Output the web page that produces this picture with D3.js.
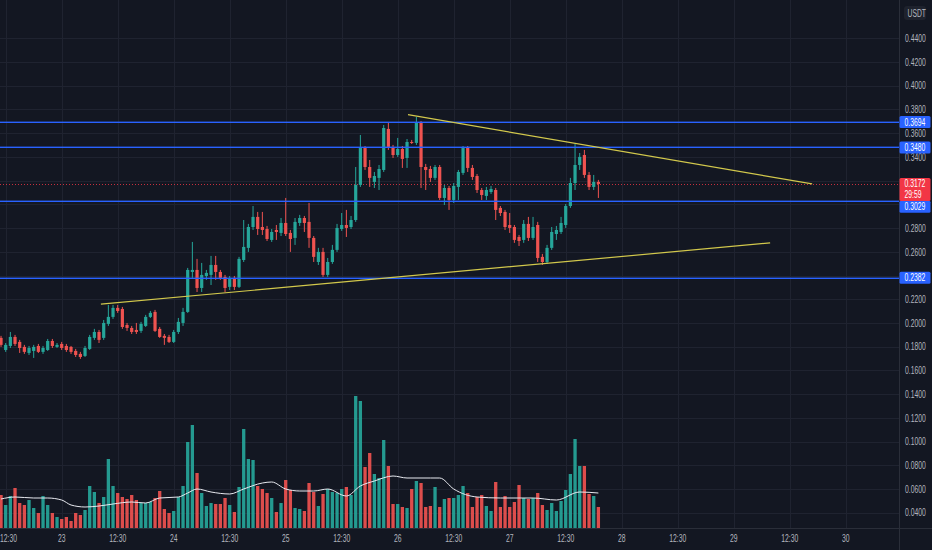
<!DOCTYPE html>
<html>
<head>
<meta charset="utf-8">
<script src="https://cdn.jsdelivr.net/npm/d3@7"></script>
<style>
  html, body { margin: 0; padding: 0; background: #131722; }
  svg text { font-family: "Liberation Sans", Arial, sans-serif; }
</style>
</head>
<body>
<div id="chart"></div>
<script>

// hourly candles, first one at 22 11:30 (UTC+5:30 style labels)
const firstCandle = "2021-07-22T11:30:00Z";

const opens = [
  .1874,.1772,.1806,.1882,.1840,.1798,.1747,.1764,.1806,.1756,
  .1772,.1848,.1798,.1823,.1806,.1798,.1764,.1739,.1722,.1781,
  .1874,.1924,.1874,.1992,.2051,.2127,.2118,.1983,.1958,.1941,
  .1933,.1975,.2051,.2093,.1950,.1891,.1882,.1840,.1924,.2000,
  .2093,.2430,.2447,.2295,.2396,.2405,.2489,.2430,.2388,.2304,
  .2380,.2304,.2531,.2633,.2809,.2894,.2809,.2792,.2700,.2784,
  .2759,.2843,.2759,.2717,.2843,.2885,.2852,.2717,.2514,.2599,
  .2405,.2514,.2616,.2792,.2826,.2809,.2868,.3164,.3475,.3315,
  .3189,.3223,.3290,.3636,.3484,.3416,.3467,.3391,.3526,.3518,
  .3686,.3315,.3298,.3223,.3315,.3054,.3138,.3037,.3147,.3265,
  .3475,.3307,.3239,.3121,.3071,.3104,.3121,.2970,.2936,.2826,
  .2809,.2725,.2700,.2835,.2717,.2826,.2557,.2514,.2633,.2750,
  .2767,.2826,.2986,.3180,.3332,.3416,.3248,.3147,.3189
];
const highs = [
  .1891,.1831,.1924,.1899,.1857,.1815,.1806,.1815,.1823,.1806,
  .1865,.1865,.1831,.1840,.1823,.1806,.1781,.1756,.1806,.1899,
  .1950,.1941,.2025,.2152,.2152,.2152,.2135,.2000,.1975,.2000,
  .2009,.2068,.2101,.2110,.1966,.1907,.1899,.1941,.2042,.2127,
  .2464,.2683,.2540,.2506,.2447,.2565,.2565,.2447,.2405,.2396,
  .2396,.2557,.2868,.2835,.2986,.2936,.2936,.2818,.2792,.2826,
  .2885,.3054,.2784,.2885,.2911,.2902,.3012,.2733,.2633,.2633,
  .2548,.2658,.2835,.2927,.2953,.2902,.3315,.3585,.3492,.3374,
  .3273,.3332,.3669,.3686,.3501,.3560,.3492,.3551,.3543,.3737,
  .3703,.3341,.3324,.3332,.3332,.3164,.3155,.3180,.3290,.3492,
  .3492,.3332,.3256,.3138,.3147,.3155,.3138,.2986,.2953,.2927,
  .2826,.2742,.2868,.2894,.2894,.2852,.2582,.2658,.2809,.2818,
  .2894,.3003,.3223,.3509,.3433,.3459,.3273,.3248,.3206
];
const lows = [
  .1798,.1756,.1789,.1806,.1747,.1739,.1730,.1705,.1747,.1739,
  .1764,.1789,.1789,.1772,.1756,.1739,.1713,.1697,.1713,.1772,
  .1857,.1831,.1857,.1975,.2034,.2085,.1950,.1933,.1907,.1907,
  .1916,.1966,.2042,.1924,.1874,.1815,.1831,.1831,.1907,.1975,
  .2085,.2380,.2261,.2261,.2363,.2320,.2363,.2363,.2261,.2278,
  .2278,.2295,.2514,.2599,.2784,.2742,.2742,.2691,.2683,.2700,
  .2733,.2733,.2599,.2658,.2818,.2767,.2633,.2514,.2489,.2388,
  .2388,.2498,.2599,.2776,.2725,.2792,.2852,.3147,.3290,.3147,
  .3138,.3121,.3273,.3459,.3391,.3400,.3307,.3307,.3509,.3501,
  .3138,.3121,.3189,.3206,.3037,.2995,.2953,.3012,.3037,.3248,
  .3273,.3206,.3096,.3037,.3037,.3088,.2868,.2902,.2784,.2759,
  .2675,.2649,.2675,.2691,.2700,.2514,.2489,.2498,.2616,.2700,
  .2750,.2801,.2970,.3121,.3290,.3223,.3121,.3121,.3054
];
const closes = [
  .1815,.1815,.1882,.1823,.1789,.1756,.1789,.1798,.1756,.1789,
  .1848,.1806,.1815,.1789,.1772,.1756,.1730,.1713,.1789,.1882,
  .1924,.1857,.2000,.2051,.2127,.2101,.1966,.1958,.1924,.1924,
  .1992,.2051,.2085,.1933,.1882,.1874,.1840,.1924,.2009,.2093,
  .2447,.2447,.2295,.2405,.2422,.2489,.2430,.2380,.2295,.2380,
  .2304,.2540,.2641,.2809,.2894,.2792,.2784,.2708,.2767,.2767,
  .2843,.2750,.2708,.2852,.2885,.2843,.2717,.2557,.2599,.2405,
  .2514,.2616,.2801,.2826,.2801,.2868,.3164,.3475,.3315,.3223,
  .3239,.3298,.3644,.3484,.3416,.3467,.3383,.3526,.3518,.3686,
  .3315,.3290,.3223,.3315,.3054,.3138,.3037,.3155,.3273,.3475,
  .3307,.3231,.3121,.3079,.3121,.3130,.2953,.2927,.2809,.2801,
  .2700,.2691,.2835,.2717,.2809,.2548,.2514,.2633,.2767,.2784,
  .2843,.2986,.3180,.3332,.3400,.3248,.3147,.3189,.3172
];
// volume, K
const volumes = [
  33,23,32,40,25,23,28,20,15,32,
  23,15,11,9,11,7,15,13,18,42,
  36,25,31,69,42,35,31,29,33,28,
  25,25,26,30,37,19,15,17,31,42,
  86,103,55,35,22,25,24,24,30,23,
  16,41,99,69,68,42,39,35,30,16,
  25,48,38,20,19,17,45,36,22,34,
  39,36,35,39,41,33,132,127,61,75,
  54,50,88,62,24,24,21,20,39,47,
  45,21,22,41,21,29,30,30,33,42,
  35,21,31,33,22,17,46,21,32,21,
  26,43,30,29,30,35,23,18,25,17,
  27,38,54,89,62,62,34,32,21
];
// volume moving average, read at some candles
const maCandle = [0,3,7,10,13,15,18,21,24,28,31,34,38,40,42,45,49,52,56,58,61,64,67,70,74,77,80,84,87,92,94,97,102,107,114,119,124,128];
const maValue  = [29,31,30,30,28,23,21,22,24,26,25,30,31,35,39,36,34,39,45,46,39,37,37,39,32,42,47,52,50,50,50,39,31,30,30,28,36,35];

const levels = [0.3694, 0.3480, 0.3029, 0.2382];
const levelLabelY = [0.3694, 0.3480, 0.2979, 0.2382]; // 0.3029 tag pushed down under the price tag
const lastPrice = 0.3172;
const countdown = "29:59";

const trendUpper = [["2021-07-26T02:42:00Z", 0.3756], ["2021-07-29T17:18:00Z", 0.3172]];
const trendLower = [["2021-07-23T08:54:00Z", 0.2158], ["2021-07-29T08:18:00Z", 0.2675]];

const priceTicks = [0.04,0.06,0.08,0.10,0.12,0.14,0.16,0.18,0.20,0.22,0.24,0.26,0.28,0.30,0.32,0.34,0.36,0.38,0.40,0.42,0.44];
const timeTicks = [
  "2021-07-22T12:30:00Z","2021-07-23T00:30:00Z","2021-07-23T12:30:00Z","2021-07-24T00:30:00Z",
  "2021-07-24T12:30:00Z","2021-07-25T00:30:00Z","2021-07-25T12:30:00Z","2021-07-26T00:30:00Z",
  "2021-07-26T12:30:00Z","2021-07-27T00:30:00Z","2021-07-27T12:30:00Z","2021-07-28T00:30:00Z",
  "2021-07-28T12:30:00Z","2021-07-29T00:30:00Z","2021-07-29T12:30:00Z","2021-07-30T00:30:00Z"
];

let width = 932;
let height = 550;
let plotW = 899;
let paneBottom = 528;

const up = "#26a69a";
const down = "#ef5350";
const textCol = "#b2b5be";
const squeeze = 0.68;

let svg = d3.select("#chart")
    .append("svg")
    .attr("width", width)
    .attr("height", height)
    .style("display", "block");

svg.append("rect")
    .attr("width", width)
    .attr("height", height)
    .attr("fill", "#131722");

let t0 = new Date(firstCandle);
const candleTime = i => d3.utcHour.offset(t0, i);

let scaleX = d3.scaleUtc()
    .domain([new Date("2021-07-22T11:16:48Z"), new Date("2021-07-30T12:07:48Z")])
    .range([0, 900]);

let scaleY = d3.scaleLinear()
    .domain([0.0271, 0.4723])
    .range([paneBottom, 0]);

let scaleVol = d3.scaleLinear()
    .domain([0, d3.max(volumes)])
    .range([paneBottom, paneBottom - 132]);

// grid
let grid = svg.append("g").attr("stroke", "#1f2330").attr("stroke-width", 1);
grid.selectAll(".hgrid")
    .data(priceTicks)
    .join("line")
    .attr("class", "hgrid")
    .attr("x1", 0).attr("x2", plotW)
    .attr("y1", d => Math.round(scaleY(d)) + 0.5)
    .attr("y2", d => Math.round(scaleY(d)) + 0.5);
grid.selectAll(".vgrid")
    .data(timeTicks)
    .join("line")
    .attr("class", "vgrid")
    .attr("x1", d => Math.round(scaleX(new Date(d))) + 0.5)
    .attr("x2", d => Math.round(scaleX(new Date(d))) + 0.5)
    .attr("y1", 0).attr("y2", paneBottom);

// volume
let idx = d3.range(closes.length);
svg.append("g")
    .selectAll("rect")
    .data(idx)
    .join("rect")
    .attr("x", i => scaleX(candleTime(i)) - 1.65)
    .attr("width", 3.3)
    .attr("y", i => scaleVol(volumes[i]))
    .attr("height", i => paneBottom - scaleVol(volumes[i]))
    .attr("fill", i => closes[i] >= opens[i] ? up : down)
    .attr("opacity", 0.92);

svg.append("path")
    .datum(maCandle.map((c, k) => [c, maValue[k]]))
    .attr("fill", "none")
    .attr("stroke", "#e8eaf0")
    .attr("stroke-width", 1)
    .attr("d", d3.line()
        .curve(d3.curveMonotoneX)
        .x(d => scaleX(candleTime(d[0])))
        .y(d => scaleVol(d[1])));

// last price dotted line
svg.append("line")
    .attr("x1", 0).attr("x2", plotW)
    .attr("y1", Math.round(scaleY(lastPrice)) + 0.5)
    .attr("y2", Math.round(scaleY(lastPrice)) + 0.5)
    .attr("stroke", "#f23645")
    .attr("stroke-dasharray", "1,2")
    .attr("opacity", 0.8);

// candles
let candles = svg.append("g")
    .selectAll("g")
    .data(idx)
    .join("g")
    .attr("fill", i => closes[i] >= opens[i] ? up : down)
    .attr("stroke", i => closes[i] >= opens[i] ? up : down);
candles.append("line")
    .attr("x1", i => scaleX(candleTime(i)))
    .attr("x2", i => scaleX(candleTime(i)))
    .attr("y1", i => scaleY(highs[i]))
    .attr("y2", i => scaleY(lows[i]))
    .attr("stroke-width", 1);
candles.append("rect")
    .attr("stroke", "none")
    .attr("x", i => scaleX(candleTime(i)) - 1.6)
    .attr("width", 3.2)
    .attr("y", i => scaleY(Math.max(opens[i], closes[i])))
    .attr("height", i => Math.max(1, Math.abs(scaleY(opens[i]) - scaleY(closes[i]))));

// horizontal levels (drawings sit above the series)
svg.append("g")
    .selectAll("rect")
    .data(levels)
    .join("rect")
    .attr("x", 0)
    .attr("width", plotW)
    .attr("y", d => Math.round(scaleY(d)) - 0.4)
    .attr("height", 1.4)
    .attr("fill", "#2962ff");

// trend lines
svg.append("g")
    .selectAll("line")
    .data([trendUpper, trendLower])
    .join("line")
    .attr("x1", d => scaleX(new Date(d[0][0])))
    .attr("y1", d => scaleY(d[0][1]))
    .attr("x2", d => scaleX(new Date(d[1][0])))
    .attr("y2", d => scaleY(d[1][1]))
    .attr("stroke", "#d2c84c")
    .attr("stroke-width", 1.2);

// pane borders
svg.append("line")
    .attr("x1", 0).attr("x2", width)
    .attr("y1", paneBottom + 0.5).attr("y2", paneBottom + 0.5)
    .attr("stroke", "#2a2e39");
svg.append("line")
    .attr("x1", plotW + 0.5).attr("x2", plotW + 0.5)
    .attr("y1", 0).attr("y2", height)
    .attr("stroke", "#2a2e39");

// axis tags: [centre price, lines, colour]
let tags = levels.map((lv, k) => ({ at: levelLabelY[k], text: [d3.format(".4f")(lv)], fill: "#2962ff" }));
tags.push({ at: lastPrice, text: [d3.format(".4f")(lastPrice), countdown], fill: "#f23645" });
const tagTop = t => scaleY(t.at) - 6;
const tagBottom = t => scaleY(t.at) - 6 + (t.text.length === 2 ? 23 : 12);

// price axis, labels hidden where a tag covers them
const covered = p => tags.some(t => scaleY(p) + 3 > tagTop(t) && scaleY(p) - 3 < tagBottom(t));

svg.append("g")
    .attr("transform", "translate(" + plotW + ",0)")
    .call(d3.axisRight(scaleY)
        .tickValues(priceTicks.filter(p => !covered(p)))
        .tickSize(0)
        .tickPadding(6)
        .tickFormat(d3.format(".4f")))
    .call(g => g.select(".domain").remove())
    .call(g => g.selectAll("text")
        .attr("fill", textCol)
        .attr("font-size", 10)
        .attr("font-family", null)
        .attr("x", 6 / squeeze)
        .attr("transform", "scale(" + squeeze + ",1)"));

// time axis
const dayFmt = d3.utcFormat("%-d");
const hourFmt = d3.utcFormat("%H:%M");
svg.append("g")
    .attr("transform", "translate(0," + paneBottom + ")")
    .call(d3.axisBottom(scaleX)
        .tickValues(timeTicks.map(d => new Date(d)))
        .tickSize(0)
        .tickPadding(7)
        .tickFormat(d => d.getUTCHours() === 0 ? dayFmt(d) : hourFmt(d)))
    .call(g => g.select(".domain").remove())
    .call(g => g.selectAll(".tick")
        .attr("transform", d => "translate(" + Math.max(8.5, scaleX(d)) + ",0)"))
    .call(g => g.selectAll("text")
        .attr("fill", textCol)
        .attr("font-size", 10)
        .attr("font-family", null)
        .attr("transform", "scale(" + squeeze + ",1)"));

tags.forEach(t => {
    let g = svg.append("g").attr("transform", "translate(" + (plotW + 0.5) + "," + scaleY(t.at) + ")");
    g.append("rect")
        .attr("x", 0).attr("y", -6)
        .attr("width", 31).attr("height", tagBottom(t) - tagTop(t))
        .attr("rx", 1.5)
        .attr("fill", t.fill);
    t.text.forEach((s, k) => {
        g.append("text")
            .attr("transform", "translate(5," + (k * 11) + ") scale(" + squeeze + ",1)")
            .attr("dy", "0.35em")
            .attr("font-size", 10)
            .attr("fill", "#ffffff")
            .text(s);
    });
});

// currency box
let cur = svg.append("g").attr("transform", "translate(904,6)");
cur.append("rect")
    .attr("width", 22).attr("height", 14)
    .attr("rx", 3)
    .attr("fill", "#1e222d");
cur.append("text")
    .attr("transform", "translate(3.5,10.5) scale(" + squeeze + ",1)")
    .attr("font-size", 10)
    .attr("fill", textCol)
    .text("USDT");

</script>
</body>
</html>
